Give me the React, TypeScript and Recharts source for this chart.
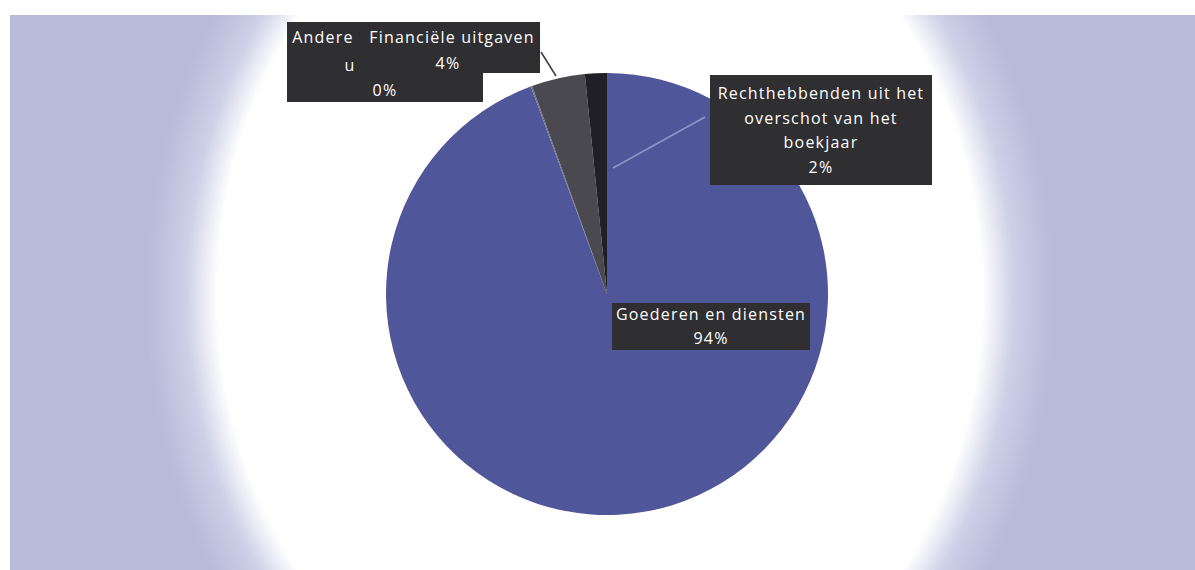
import React from 'react';
import { PieChart, Pie, Cell } from 'recharts';

const categories = [
  'Goederen en diensten',
  'Andere uitgaven',
  'Financiële uitgaven',
  'Rechthebbenden uit het overschot van het boekjaar',
];
const shares = [94.3, 0.1, 3.9, 1.6];
const percentLabels = ['94%', '0%', '4%', '2%'];
const visibleLabelLines = [
  ['Goederen en diensten', '94%'],
  ['Andere', 'u', '0%'],
  ['Financiële uitgaven', '4%'],
  ['Rechthebbenden uit het', 'overschot van het', 'boekjaar', '2%'],
];
const sliceColors = ['#4f5699', '#6b6f8a', '#4a4950', '#1f1f25'];

const data = categories.map((name, i) => ({ name, value: shares[i], pct: percentLabels[i] }));

// label layout, relative to the pie centre
const labelLayout = [
  { box: [5, 9, 198, 47], lines: [[104, 20], [104, 44]], leader: null },
  { box: [-320, -272, 196, 80], lines: [[-284, -257], [-257, -229], [-222, -204]], leader: null },
  { box: [-242, -272, 175, 51], lines: [[-155, -257], [-159, -231]], leader: [[-66, -242], [-51, -218]] },
  { box: [103, -219, 222, 110], lines: [[214, -201], [214, -176], [214, -152], [214, -127]], leader: [[6, -126], [98, -177]] },
];

const renderLabel = (props: any) => {
  const { cx, cy, index } = props;
  const L = labelLayout[index];
  const lines = visibleLabelLines[index];
  return (
    <g key={`lbl-${index}`}>
      {L.leader && (
        <line
          x1={cx + L.leader[0][0]}
          y1={cy + L.leader[0][1]}
          x2={cx + L.leader[1][0]}
          y2={cy + L.leader[1][1]}
          stroke={index === 3 ? '#8f95c6' : '#3a3a40'}
          strokeWidth={1.5}
        />
      )}
      <rect
        x={cx + L.box[0]}
        y={cy + L.box[1]}
        width={L.box[2]}
        height={L.box[3]}
        fill="#2f2e31"
      />
      {lines.map((t, j) => (
        <text
          key={j}
          x={cx + L.lines[j][0]}
          y={cy + L.lines[j][1]}
          textAnchor="middle"
          dominantBaseline="central"
          fill="#ffffff"
          fontFamily="'Open Sans', sans-serif"
          fontSize={16}
          letterSpacing={1.2}
        >
          {t}
        </text>
      ))}
    </g>
  );
};

export default function App() {
  return (
    <div style={{ position: 'absolute', left: 0, top: 0, width: 1195, height: 570, background: '#ffffff', overflow: 'hidden' }}>
      <div
        style={{
          position: 'absolute',
          left: 10,
          top: 15,
          width: 1185,
          height: 555,
          background:
            'radial-gradient(ellipse 455px 535px at 590px 280px, #ffffff 0%, #ffffff 84%, #cdd0e7 91%, #b7bad8 100%)',
        }}
      />
      <div style={{ position: 'absolute', left: 0, top: 0 }}>
        <PieChart width={1195} height={570} margin={{ top: 0, right: 0, bottom: 0, left: 0 }}>
          <Pie
            data={data}
            dataKey="value"
            nameKey="name"
            cx={607}
            cy={294}
            outerRadius={221}
            startAngle={90}
            endAngle={-270}
            stroke="none"
            isAnimationActive={false}
            labelLine={false}
            label={renderLabel}
          >
            {data.map((d, i) => (
              <Cell key={d.name} fill={sliceColors[i]} />
            ))}
          </Pie>
        </PieChart>
      </div>
    </div>
  );
}
